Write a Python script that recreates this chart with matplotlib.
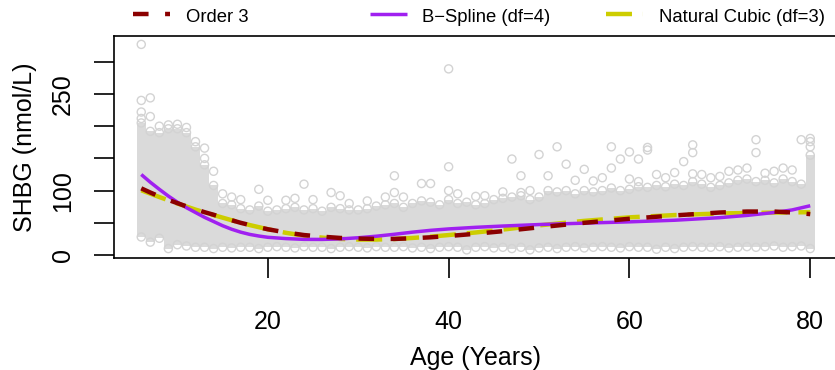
import matplotlib
matplotlib.use('Agg')
import matplotlib.pyplot as plt
from matplotlib.lines import Line2D
import numpy as np

plt.rcParams['font.family'] = ['Liberation Sans', 'DejaVu Sans']
plt.rcParams['lines.scale_dashes'] = False

W, H = 835, 370

# SHBG spread per year of age (dense band low / high)
ages = list(range(6, 81))
band_lo = [28, 20, 26, 10, 16, 14, 12, 12, 10, 12, 11, 12, 12, 10, 12,
           13, 12, 11, 13, 12, 12, 10, 12, 13, 12, 11, 13, 12, 12, 13,
           11, 12, 10, 12, 13, 12, 8, 12, 13, 11, 12, 10, 12, 8, 11,
           12, 10, 12, 13, 11, 12, 13, 12, 11, 13, 12, 12, 9, 12, 10,
           12, 13, 12, 12, 13, 11, 12, 13, 12, 13, 14, 12, 13, 14, 10]
band_hi = [205, 192, 190, 196, 196, 190, 168, 140, 108, 80, 78, 72, 70, 76, 68,
           70, 72, 74, 70, 72, 68, 74, 72, 70, 70, 72, 76, 78, 80, 74,
           80, 84, 82, 78, 86, 80, 82, 78, 80, 86, 88, 90, 92, 86, 90,
           100, 98, 100, 95, 100, 98, 100, 104, 100, 102, 106, 105, 108, 106, 110,
           108, 114, 110, 105, 108, 112, 116, 118, 114, 116, 112, 118, 114, 110, 155]

# isolated points above the band
out_age = [6, 6, 6, 6, 7, 7, 8, 9, 10, 11, 12, 13, 13, 14, 15, 16, 17, 19, 20, 22,
           23, 24, 25, 27, 28, 29, 31, 33, 34, 34, 35, 37, 38, 40, 40, 40, 41, 43, 44, 46,
           47, 48, 48, 49, 50, 51, 52, 53, 54, 55, 56, 57, 58, 58, 59, 60, 60, 61, 61, 62,
           62, 63, 64, 65, 66, 67, 67, 67, 68, 69, 70, 71, 72, 73, 74, 74, 75, 76, 77, 78,
           79, 80, 80, 80]
out_val = [327, 240, 222, 212, 244, 215, 200, 202, 203, 198, 176, 166, 150, 130, 95, 90, 86, 102, 85, 85,
           88, 110, 86, 97, 92, 80, 84, 90, 123, 97, 90, 111, 111, 289, 137, 100, 95, 91, 92, 98,
           149, 123, 97, 100, 156, 123, 168, 141, 116, 133, 115, 120, 168, 135, 149, 160, 118, 149, 114, 167,
           163, 125, 120, 128, 145, 171, 159, 126, 125, 120, 122, 130, 132, 135, 179, 159, 127, 130, 135, 132,
           179, 181, 176, 168]

# fitted curves
o3_age = [6, 7, 8, 9, 10, 11, 12, 13, 14, 15, 16, 17, 18, 19, 20, 22, 24, 26, 28, 30,
          32, 34, 36, 38, 40, 43, 46, 50, 55, 60, 65, 70, 73, 76, 78, 80]
o3_val = [103.5, 97, 91, 85.5, 80.5, 75.5, 71, 66.5, 62.5, 58, 54, 50, 46.5, 43, 40, 35, 31, 28.5, 26.5, 25.5,
          25, 25, 26, 27.5, 29.5, 33, 37, 43, 50, 56.3, 61.5, 66, 67.5, 67.5, 66, 63.5]
bs_age = [6, 7, 8, 9, 10, 11, 12, 13, 14, 15, 16, 17, 18, 19, 20, 22, 24, 26, 28, 30,
          32, 34, 36, 38, 40, 43, 46, 50, 55, 60, 65, 70, 73, 76, 78, 80]
bs_val = [125, 113, 102, 91.5, 82, 73.5, 66, 58.5, 52, 45.5, 40, 35.5, 32, 29.5, 27.5, 25.5, 24.3, 24.2, 25, 26.8,
          29.2, 32.2, 35.5, 38.3, 40.5, 43, 45, 47.3, 49.5, 51.5, 54, 58, 61.5, 66, 70, 76.5]
nc_age = [6, 8, 10, 12, 14, 16, 18, 20, 22, 24, 26, 28, 30, 32, 34, 36, 38, 40, 43, 46,
          50, 55, 60, 65, 70, 75, 80]
nc_val = [100.5, 90, 80, 70.5, 62, 54, 46.5, 40, 34.5, 30, 27, 25, 24, 24, 24.8, 26.5, 28.5, 31, 35, 39.5,
          46, 53, 58.5, 62, 64.5, 65.7, 66.5]

RED, PURPLE, YELLOW, GREY = '#8B0000', '#A020F0', '#CDCD00', '#D3D3D3'

fig = plt.figure(figsize=(W / 100, H / 100), dpi=100)
ax = fig.add_axes([114.5 / W, (H - 258.3) / H, (837 - 114.5) / W, (258.3 - 35.7) / H])

lo = np.array(band_lo)
hi = np.array(band_hi)
ax.bar(ages, hi - lo, bottom=lo, width=1.0, color='#DADADA', linewidth=0, zorder=1)
for yy in (band_lo, band_hi):
    ax.scatter(ages, yy, s=34, facecolors='none', edgecolors=GREY, linewidths=1.0, zorder=2)
ax.scatter(out_age, out_val, s=34, facecolors='none', edgecolors=GREY, linewidths=1.0, zorder=2)

ax.plot(nc_age, nc_val, color=YELLOW, lw=3.2, dashes=(18.7, 7.9), zorder=3)
ax.plot(bs_age, bs_val, color=PURPLE, lw=2.5, solid_capstyle='butt', zorder=4)
ax.plot(o3_age, o3_val, color=RED, lw=3.2, dashes=(11.2, 11.9), zorder=5)

ax.set_xlim(3.04, 82.96)
ax.set_ylim(-5.1, 340.5)
ax.set_xticks([20, 40, 60, 80])
ax.set_yticks(range(0, 301, 50))
ax.set_yticklabels(['0', '', '100', '', '', '250', ''])
ax.tick_params(axis='both', direction='out', length=14.4, width=1.2, labelsize=18)
ax.tick_params(axis='x', pad=23)
ax.tick_params(axis='y', pad=14)
for lab in ax.get_yticklabels():
    lab.set_rotation(90)
    lab.set_va('center')
ax.spines['right'].set_visible(False)
for s in ('left', 'top', 'bottom'):
    ax.spines[s].set_linewidth(1.2)

fig.text(475.8 / W, (H - 365) / H, 'Age (Years)', ha='center', va='baseline', fontsize=18)
fig.text(31.7 / W, (H - 147) / H, 'SHBG (nmol/L)', rotation=90, rotation_mode='anchor',
         ha='center', va='baseline', fontsize=18)

# legend across the top
leg = [('Order 3', RED, 3.2, (11.2, 11.9), 132.7, 186),
       ('B\u2212Spline (df=4)', PURPLE, 2.5, None, 370, 422),
       ('Natural Cubic (df=3)', YELLOW, 3.2, (18.7, 7.9), 606, 659)]
for text, col, lw, dash, x0, tx in leg:
    kw = dict(dashes=dash) if dash else dict(solid_capstyle='butt')
    fig.add_artist(Line2D([x0 / W, (x0 + 37) / W], [(H - 14.3) / H] * 2,
                          transform=fig.transFigure, color=col, lw=lw, **kw))
    fig.text(tx / W, (H - 21.7) / H, text, fontsize=13.3, va='baseline', ha='left')

fig.savefig('out.png', dpi=100)
